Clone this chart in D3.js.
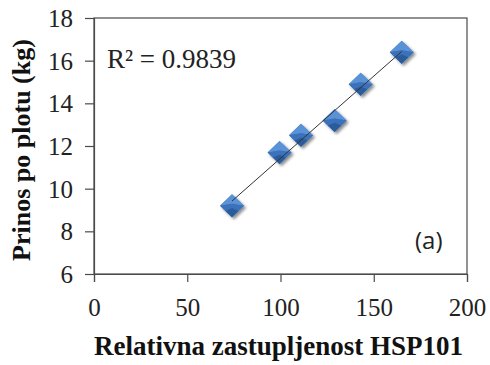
<!DOCTYPE html>
<html><head><meta charset="utf-8">
<script src="https://cdn.jsdelivr.net/npm/d3@7"></script>
<style>body{margin:0;background:#fff}svg{display:block}</style>
</head><body>
<svg id="c" width="490" height="365"></svg>
<script>
const xValues = [74, 99.5, 111, 129, 143, 165];
const yValues = [9.2, 11.7, 12.5, 13.2, 14.9, 16.4];
const xTicks = [0, 50, 100, 150, 200];
const yTicks = [6, 8, 10, 12, 14, 16, 18];
const xTitle = "Relativna zastupljenost HSP101";
const yTitle = "Prinos po plotu (kg)";
const r2Label = "R² = 0.9839";
const panelLabel = "(a)";

const svg = d3.select("#c");
const L = 94, R = 467, T = 18, B = 274;
const x = d3.scaleLinear().domain([0, 200]).range([L, R]);
const y = d3.scaleLinear().domain([6, 18]).range([B, T]);
const lineCol = "#4a4a4a";
const serif = '"Liberation Serif","Times New Roman",serif';

// defs
const defs = svg.append("defs");
const f = defs.append("filter").attr("id","sh").attr("x","-50%").attr("y","-50%").attr("width","200%").attr("height","200%");
f.append("feGaussianBlur").attr("in","SourceAlpha").attr("stdDeviation",1.6).attr("result","b");
f.append("feOffset").attr("in","b").attr("dx",1.5).attr("dy",2).attr("result","o");
f.append("feComponentTransfer").attr("in","o").attr("result","o2").append("feFuncA").attr("type","linear").attr("slope",0.45);
const m = f.append("feMerge"); m.append("feMergeNode").attr("in","o2"); m.append("feMergeNode").attr("in","SourceGraphic");

// frame
svg.append("rect").attr("x",L).attr("y",T).attr("width",R-L).attr("height",B-T)
  .attr("fill","none").attr("stroke",lineCol).attr("stroke-width",1.2);

// axes
const ax = svg.append("g").attr("transform",`translate(0,${B})`)
  .call(d3.axisBottom(x).tickValues(xTicks).tickSize(8).tickPadding(8));
const ay = svg.append("g").attr("transform",`translate(${L},0)`)
  .call(d3.axisLeft(y).tickValues(yTicks).tickSize(9).tickPadding(12));
[ax, ay].forEach(g => {
  g.attr("font-family", null);
  g.select(".domain").attr("stroke",lineCol).attr("stroke-width",1.2);
  g.selectAll(".tick line").attr("stroke",lineCol).attr("stroke-width",1.2);
  g.selectAll("text").style("font-family",serif).style("font-size","25px").attr("fill","#222");
});
ax.selectAll("text").attr("dy","1.05em");
ay.selectAll("text").attr("dy","0.34em");

// regression line
const n = xValues.length;
const mx = d3.mean(xValues), my = d3.mean(yValues);
let sxy = 0, sxx = 0;
for (let i = 0; i < n; i++) { sxy += (xValues[i]-mx)*(yValues[i]-my); sxx += (xValues[i]-mx)**2; }
const slope = sxy/sxx, icpt = my - slope*mx;
const x0 = d3.min(xValues), x1 = d3.max(xValues);

// markers
const pts = d3.range(n).map(i => ({cx: x(xValues[i]), cy: y(yValues[i])}));
const hw = 12, hh = 11.5;
const g = svg.append("g").attr("filter","url(#sh)");
const mk = g.selectAll("g.m").data(pts).join("g").attr("class","m");
const facet = (d, pts2) => "M" + pts2.map(p => `${d.cx+p[0]},${d.cy+p[1]}`).join("L") + "Z";
mk.append("path").attr("d", d => facet(d, [[0,-hh],[hw,0],[0,hh],[-hw,0]])).attr("fill","#3b74bd");
mk.append("path").attr("d", d => facet(d, [[0,-hh],[hw,0],[0,-2],[-hw,0]])).attr("fill","#5a92d8");
mk.append("path").attr("d", d => facet(d, [[-hw,0],[0,-2],[hw,0],[0,hh]])).attr("fill","#3a72ba");
mk.append("path").attr("d", d => facet(d, [[-hw*0.55,hh*0.45],[0,hh*0.2],[hw*0.55,hh*0.45],[0,hh]])).attr("fill","#2c5c9c");

svg.append("line")
  .attr("x1",x(x0)).attr("y1",y(icpt+slope*x0))
  .attr("x2",x(x1)).attr("y2",y(icpt+slope*x1))
  .attr("stroke","#333").attr("stroke-width",1);

// texts
svg.append("text").attr("x",107).attr("y",68).text(r2Label)
  .style("font-family",serif).style("font-size","27px").attr("fill","#222");
svg.append("text").attr("x",415).attr("y",249).text(panelLabel)
  .style("font-family",'"Open Sans","Liberation Sans",sans-serif').style("font-size","24px").attr("fill","#222");

svg.append("text").attr("x",(L+R)/2-2).attr("y",355).attr("text-anchor","middle").text(xTitle)
  .style("font-family",serif).style("font-weight","bold").style("font-size","27px").attr("fill","#111");
svg.append("text").attr("transform",`translate(30,${(T+B)/2+4}) rotate(-90)`).attr("text-anchor","middle").text(yTitle)
  .style("font-family",serif).style("font-weight","bold").style("font-size","26px").attr("fill","#111");
</script>
</body></html>
